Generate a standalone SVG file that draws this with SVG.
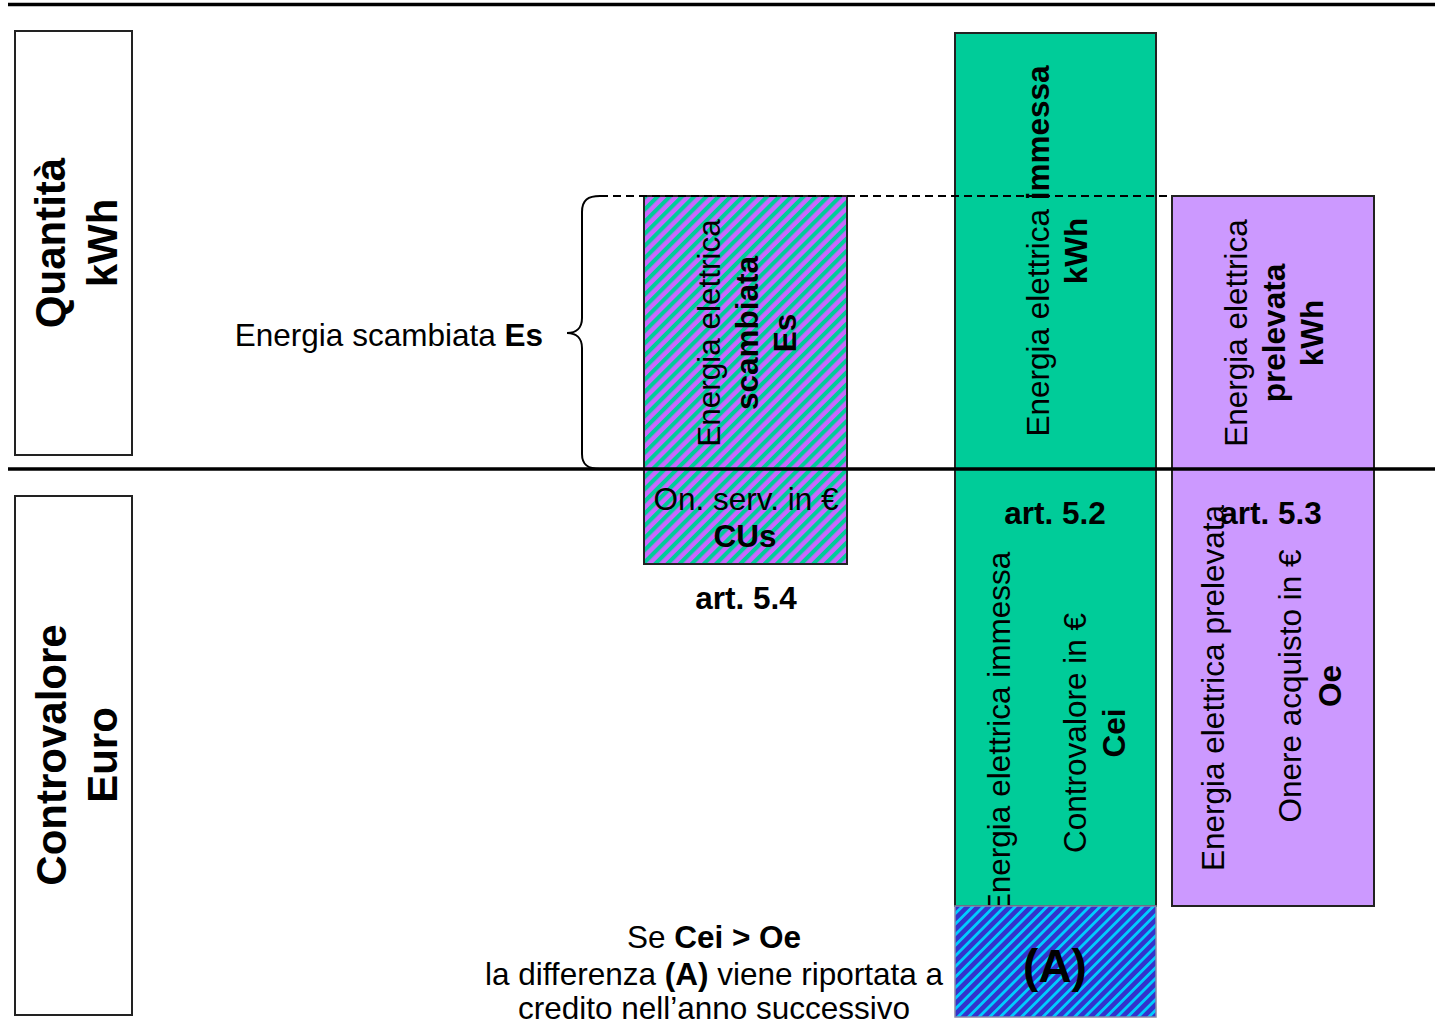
<svg xmlns="http://www.w3.org/2000/svg" width="1435" height="1026" viewBox="0 0 1435 1026">
<defs>
<pattern id="hatchPG" patternUnits="userSpaceOnUse" width="8.6" height="8.6" patternTransform="rotate(45)">
<rect x="0" y="0" width="8.6" height="8.6" fill="#CC66FF"/>
<rect x="0" y="0" width="4.1" height="8.6" fill="#00CC99"/>
</pattern>
<pattern id="hatchBC" patternUnits="userSpaceOnUse" width="7.5" height="7.5" patternTransform="rotate(45)">
<rect x="0" y="0" width="7.5" height="7.5" fill="#3333CC"/>
<rect x="0" y="0" width="2.8" height="7.5" fill="#00CCFF"/>
</pattern>
</defs>
<style>
text{font-family:"Liberation Sans",Arial,Helvetica,sans-serif;fill:#000}
.t{font-size:31.5px}
.h{font-size:42px;font-weight:bold}
.b{font-weight:bold}
.box{stroke:#222;stroke-width:2}
.lbl{fill:#fff;stroke:#222;stroke-width:2}
.rule{stroke:#000;stroke-width:3.5;fill:none}
.dash{stroke:#000;stroke-width:2;stroke-dasharray:8 5;fill:none}
</style>
<rect x="0" y="0" width="1435" height="1026" fill="#fff"/>

<g id="label-quantita">
<rect class="lbl" x="15" y="31" width="117" height="424"/>
<text class="h" text-anchor="middle" transform="translate(0,243) rotate(-90)"><tspan x="0" y="65">Quantità</tspan><tspan x="0" y="117">kWh</tspan></text>
</g>

<g id="label-controvalore">
<rect class="lbl" x="15" y="496" width="117" height="519"/>
<text class="h" text-anchor="middle" transform="translate(0,755) rotate(-90)"><tspan x="0" y="66">Controvalore</tspan><tspan x="0" y="117">Euro</tspan></text>
</g>

<g id="energia-scambiata-label">
<text class="t" x="543" y="346" text-anchor="end">Energia scambiata <tspan class="b">Es</tspan></text>
</g>

<g id="scambiata">
<rect class="box" x="644" y="196" width="203" height="368" fill="url(#hatchPG)"/>
<text class="t" text-anchor="middle" transform="translate(0,333) rotate(-90)"><tspan x="0" y="720">Energia elettrica</tspan><tspan class="b" x="0" y="758">scambiata</tspan><tspan class="b" x="0" y="796">Es</tspan></text>
<text class="t" x="746" y="510" text-anchor="middle">On. serv. in €</text>
<text class="t b" x="745" y="547" text-anchor="middle">CUs</text>
<text class="t b" x="746" y="609" text-anchor="middle">art. 5.4</text>
</g>

<g id="immessa">
<rect class="box" x="955" y="33" width="201" height="873" fill="#00CC99"/>
<text class="t" text-anchor="middle" transform="translate(0,251) rotate(-90)"><tspan x="0" y="1049">Energia elettrica <tspan class="b">immessa</tspan></tspan><tspan class="b" x="0" y="1087">kWh</tspan></text>
<text class="t b" x="1055" y="524" text-anchor="middle">art. 5.2</text>
<text class="t" text-anchor="middle" transform="translate(0,733) rotate(-90)"><tspan x="0" y="1010">Energia elettrica immessa</tspan><tspan x="0" y="1086">Controvalore in €</tspan><tspan class="b" x="0" y="1125">Cei</tspan></text>
</g>

<g id="differenza-A">
<rect x="955" y="906" width="201" height="111" fill="url(#hatchBC)" stroke="#8888aa" stroke-width="1.5"/>
<text class="b" x="1055" y="982" text-anchor="middle" font-size="46">(A)</text>
</g>

<g id="prelevata">
<rect class="box" x="1172" y="196" width="202" height="710" fill="#CC99FF"/>
<text class="t" text-anchor="middle" transform="translate(0,333) rotate(-90)"><tspan x="0" y="1247">Energia elettrica</tspan><tspan class="b" x="0" y="1285">prelevata</tspan><tspan class="b" x="0" y="1323">kWh</tspan></text>
<text class="t" text-anchor="middle" transform="translate(0,688) rotate(-90)"><tspan x="0" y="1224">Energia elettrica prelevata</tspan></text>
<text class="t b" x="1271" y="524" text-anchor="middle">art. 5.3</text>
<text class="t" text-anchor="middle" transform="translate(0,686) rotate(-90)"><tspan x="0" y="1301">Onere acquisto in €</tspan><tspan class="b" x="0" y="1341">Oe</tspan></text>
</g>

<g id="nota">
<text class="t" text-anchor="middle"><tspan x="714" y="948">Se <tspan class="b">Cei &gt; Oe</tspan></tspan><tspan x="714" y="985">la differenza <tspan class="b">(A)</tspan> viene riportata a</tspan><tspan x="714" y="1019">credito nell’anno successivo</tspan></text>
</g>

<g id="connectors">
<path d="M600 196 C588 196 582 200 582 212 L582 318 C582 328 576 333 567 333 C576 333 582 338 582 348 L582 454 C582 465 588 469 600 469" fill="none" stroke="#000" stroke-width="2"/>
<line class="dash" x1="600" y1="196" x2="1172" y2="196"/>
<line class="rule" x1="8" y1="4.5" x2="1435" y2="4.5"/>
<line class="rule" x1="8" y1="469" x2="1435" y2="469"/>
</g>
</svg>
